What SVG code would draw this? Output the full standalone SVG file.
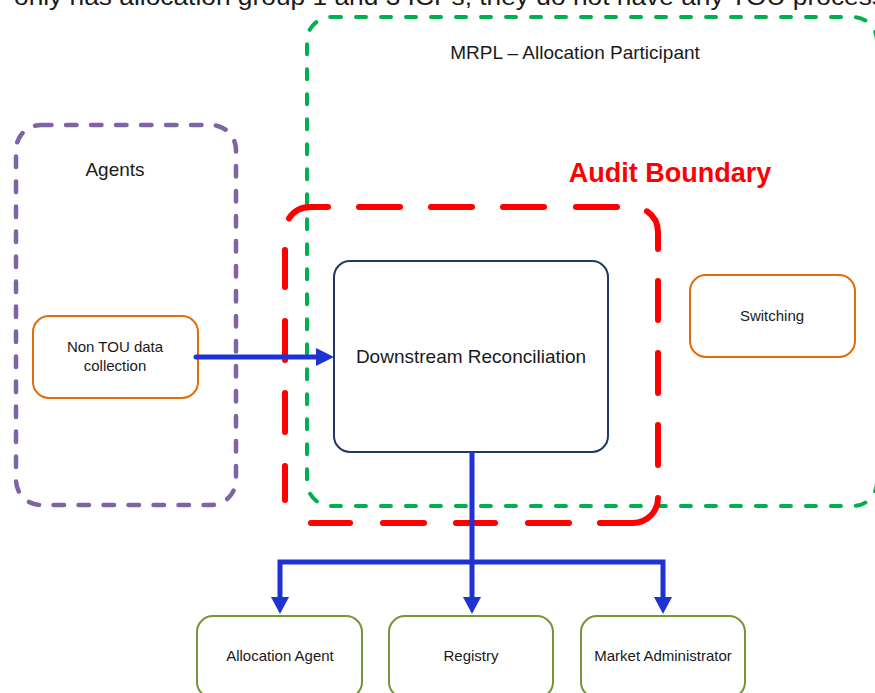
<svg xmlns="http://www.w3.org/2000/svg" width="875" height="693" viewBox="0 0 875 693">
<style>
  text { font-family: "Liberation Sans", Arial, sans-serif; fill: #1a1a1a; }
  .box { fill: #ffffff; stroke-width: 2; }
  .grp { fill: none; stroke-linecap: round; }
  .conn { fill: none; stroke: #1F32D4; stroke-width: 5; }
  .head { fill: #1F32D4; }
</style>
<rect width="875" height="693" fill="#ffffff"/>
<text x="14" y="5" font-size="23" textLength="871" lengthAdjust="spacingAndGlyphs">only has allocation group 1 and 3 ICPs, they do not have any TOU process</text>

<g id="mrpl-allocation-participant">
  <rect class="grp" x="307" y="17" width="570" height="489" rx="24" stroke="#00B050" stroke-width="4" stroke-dasharray="10 15"/>
  <text x="575" y="59" font-size="19" text-anchor="middle">MRPL – Allocation Participant</text>
</g>

<g id="agents">
  <rect class="grp" x="16" y="125" width="220" height="380" rx="25" stroke="#8064A2" stroke-width="4.5" stroke-dasharray="10.5 14.5"/>
  <text x="115" y="176" font-size="19" text-anchor="middle">Agents</text>
</g>

<g id="audit-boundary">
  <path class="grp" stroke="#FF0000" stroke-width="6" d="M289,218.4 A25,25 0 0 1 310,207 L328,207 M359,207 H400 M431,207 H472 M503,207 H544 M576,207 H617 M647,211.3 A25,25 0 0 1 658,232 V249 M658,281 V320 M658,353 V393 M658,425 V465 M658,498 A25,25 0 0 1 633,523 H600 M569,523 H528 M495,523 H456 M424,523 H383 M350,523 H311 M285,466 V500 M285,393 V432 M285,321 V360 M285,250 V287"/>
  <text x="670" y="182" font-size="27" font-weight="bold" text-anchor="middle" style="fill:#FF0000">Audit Boundary</text>
</g>

<g id="downstream-reconciliation">
  <rect class="box" x="334" y="261" width="274" height="191" rx="16" stroke="#1F3864"/>
  <text x="471" y="363" font-size="19" text-anchor="middle">Downstream Reconciliation</text>
</g>

<g id="switching">
  <rect class="box" x="690" y="275" width="165" height="82" rx="16" stroke="#E46C0A"/>
  <text x="772" y="321" font-size="15" text-anchor="middle">Switching</text>
</g>

<g id="non-tou-data-collection">
  <rect class="box" x="33" y="316" width="165" height="82" rx="16" stroke="#E46C0A"/>
  <text x="115" y="352" font-size="15" text-anchor="middle">Non TOU data</text>
  <text x="115" y="371" font-size="15" text-anchor="middle">collection</text>
</g>

<g id="allocation-agent">
  <rect class="box" x="197" y="616" width="165" height="82" rx="16" stroke="#77933C"/>
  <text x="280" y="661" font-size="15" text-anchor="middle">Allocation Agent</text>
</g>

<g id="registry">
  <rect class="box" x="389" y="616" width="164" height="82" rx="16" stroke="#77933C"/>
  <text x="471" y="661" font-size="15" text-anchor="middle">Registry</text>
</g>

<g id="market-administrator">
  <rect class="box" x="581" y="616" width="164" height="82" rx="16" stroke="#77933C"/>
  <text x="663" y="661" font-size="15" text-anchor="middle">Market Administrator</text>
</g>

<g id="connectors">
  <path class="conn" stroke-linecap="round" d="M196,357 H318"/>
  <polygon class="head" points="316,348 334,357 316,366"/>
  <path class="conn" d="M472,452 V600"/>
  <path class="conn" d="M280,600 V562 H663 V600"/>
  <polygon class="head" points="271,597 289,597 280,614"/>
  <polygon class="head" points="463,597 481,597 472,614"/>
  <polygon class="head" points="654,597 672,597 663,614"/>
</g>
</svg>
